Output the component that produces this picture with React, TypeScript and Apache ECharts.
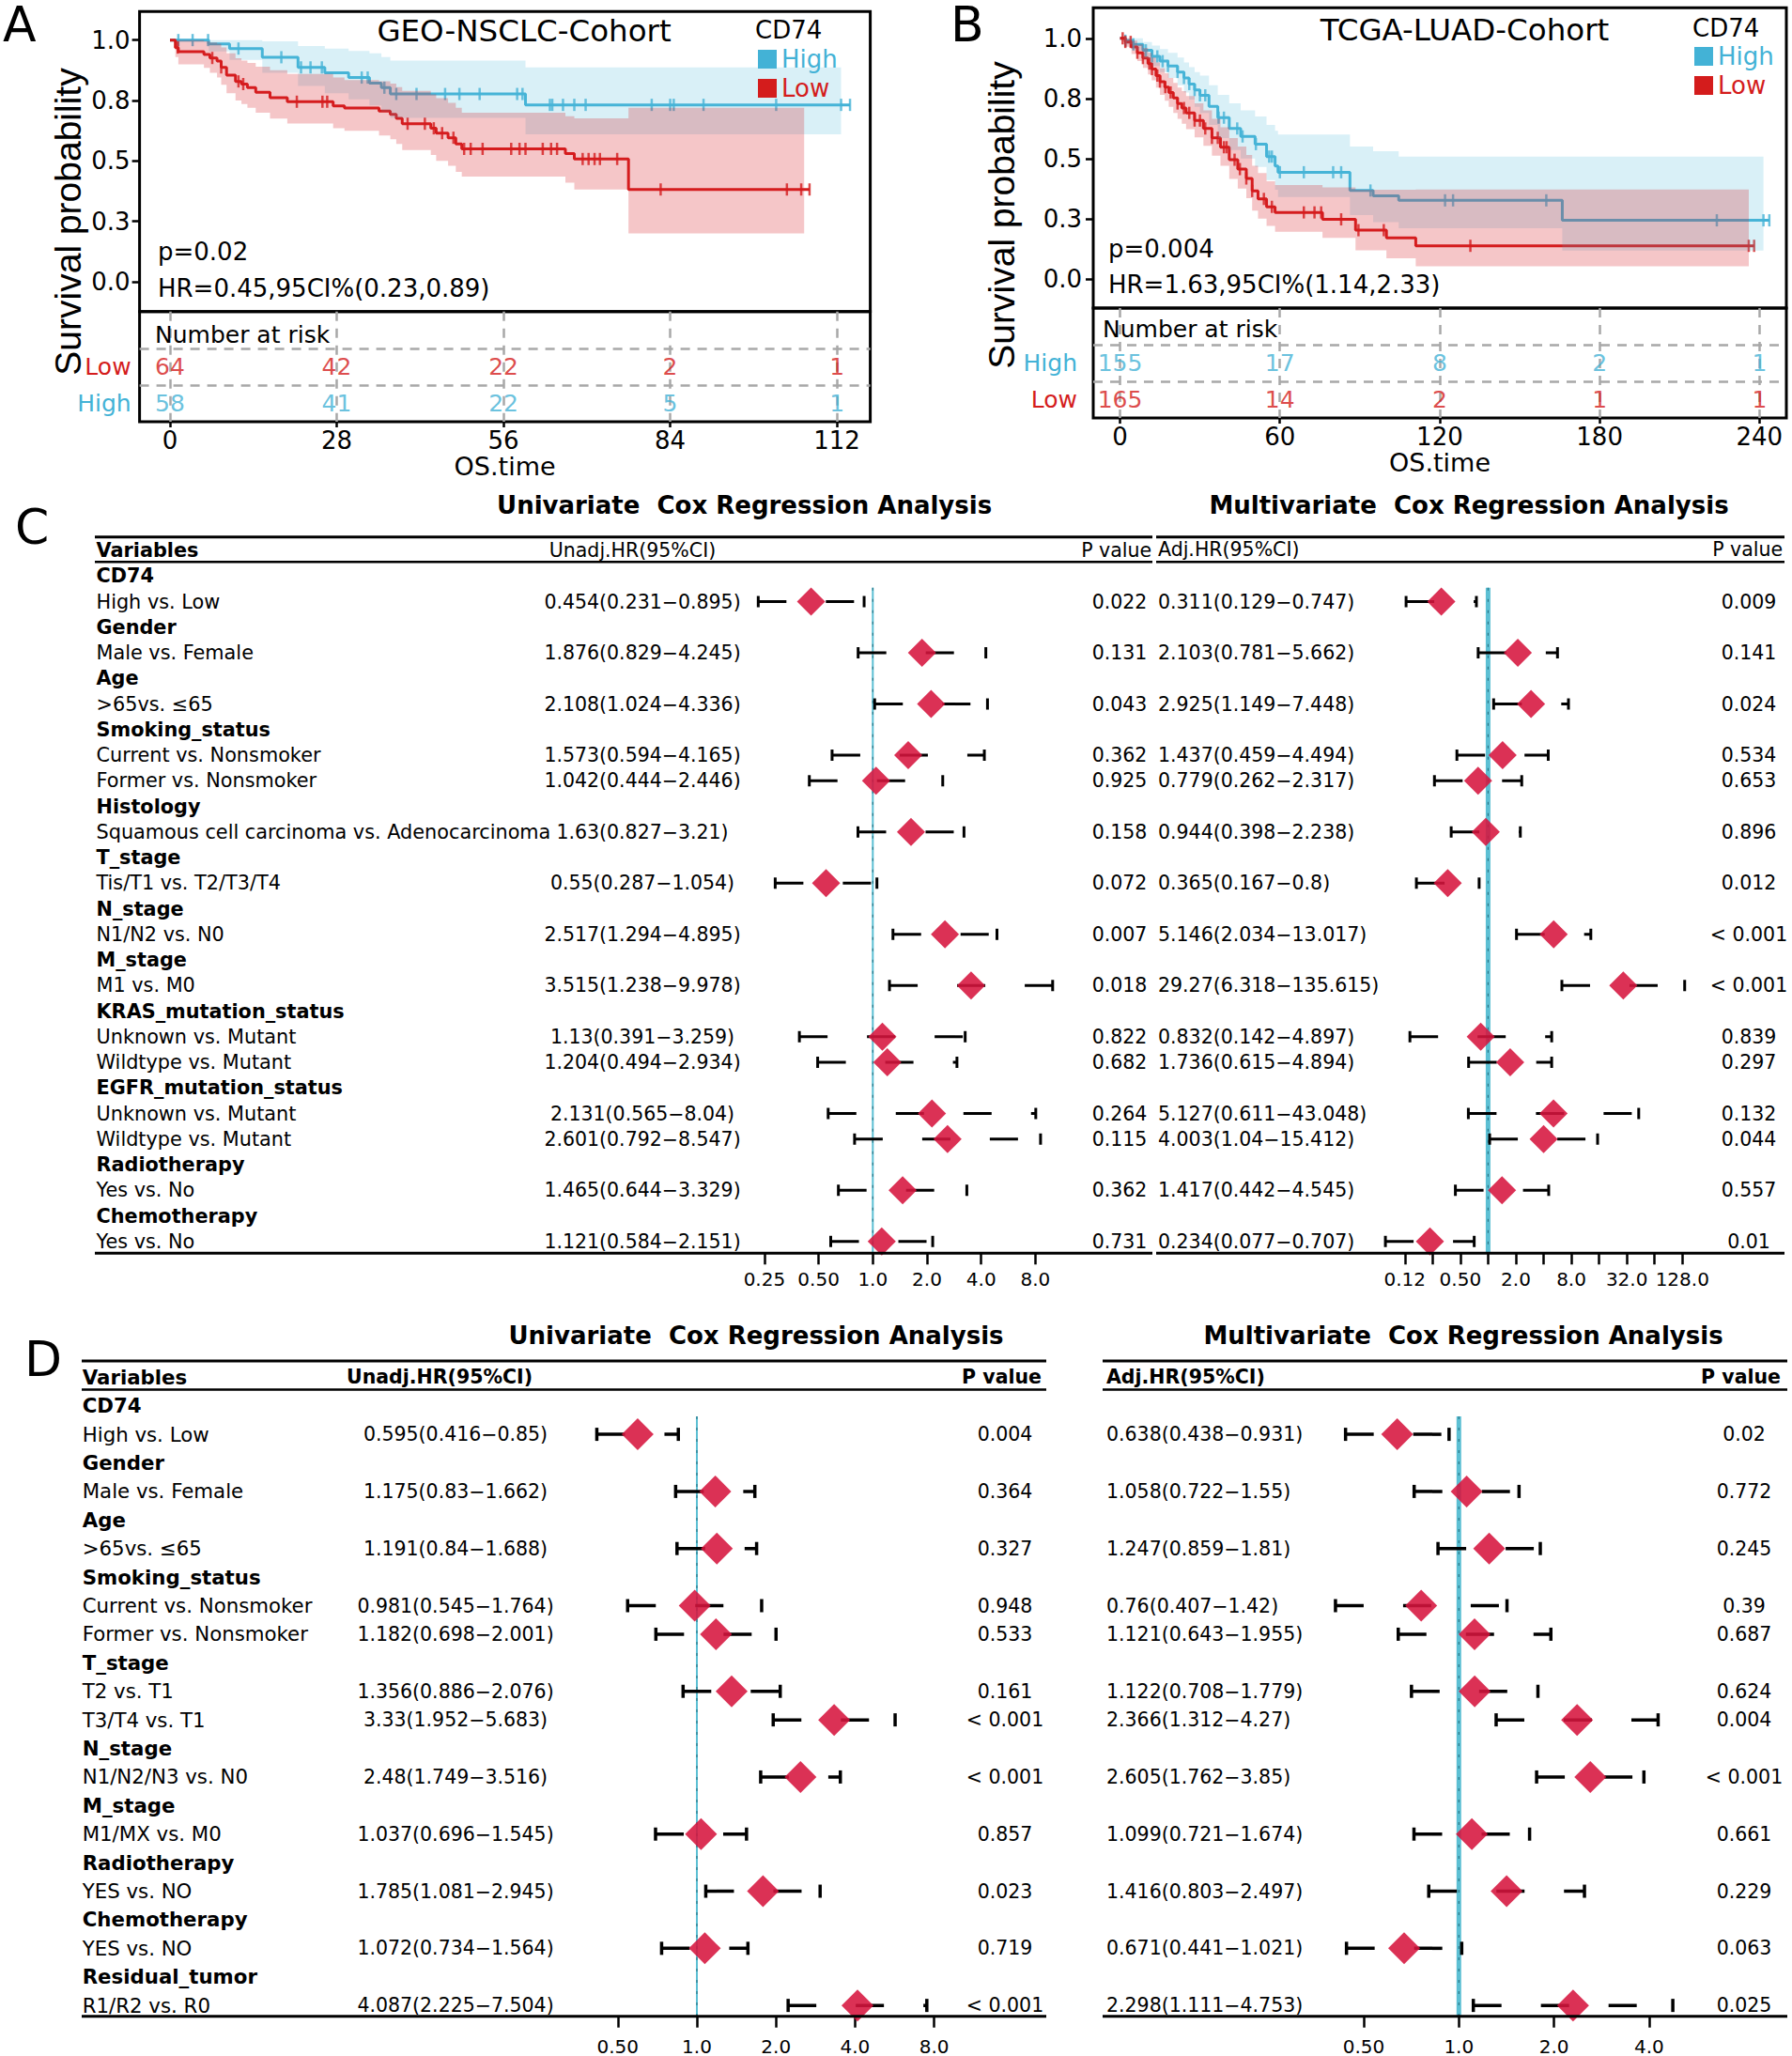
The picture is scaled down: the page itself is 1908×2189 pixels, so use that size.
import React, { useEffect, useRef } from "react";
import * as echarts from "echarts";

const W = 1908;
const H = 2189;
const FONT = "'DejaVu Sans', 'Liberation Sans', sans-serif";
const FONT_ARIAL = "'Liberation Sans', Arial, sans-serif";
const CYAN = "#43B2D6";
const RED = "#D41C1C";
const CYAN_BAND = "rgba(80,185,220,0.22)";
const RED_BAND = "rgba(215,28,35,0.25)";
const DIAMOND = "rgba(214,20,62,0.88)";

// ---------------- KM data ----------------
const KM_Y_TICKS = [0, 0.25, 0.5, 0.75, 1];
const KM_Y_LABELS = ["0.0", "0.3", "0.5", "0.8", "1.0"];

const A_X_TICKS = [0, 28, 56, 84, 112];
const B_X_TICKS = [0, 60, 120, 180, 240];

const A_HIGH_T = [0, 6.5, 10, 15.5, 21.5, 26, 30, 33.5, 35.5, 37, 59.7];
const A_HIGH_S = [1, 0.984, 0.965, 0.929, 0.887, 0.865, 0.845, 0.822, 0.803, 0.777, 0.732];
const A_HIGH_LO = [1, 0.953, 0.918, 0.865, 0.81, 0.78, 0.755, 0.73, 0.705, 0.678, 0.61];
const A_HIGH_HI = [1, 1, 1, 0.995, 0.975, 0.965, 0.955, 0.945, 0.93, 0.915, 0.887];
const A_HIGH_END = 114.2;
const A_HIGH_BAND_END = 112.7;
const A_HIGH_CENS = [1.4, 3.8, 6.4, 11.5, 18.7, 22, 23.6, 25.5, 32.2, 33.2, 36, 38, 41.4, 46.2, 48.6, 52, 58.3, 59.2, 63.8, 64.2, 66, 67.9, 69.8, 80.9, 84, 84.6, 89.6, 101.8, 112.7, 114.2];

const A_LOW_T = [0, 0.9, 1.4, 5.7, 6.7, 7.9, 8.6, 9.5, 11, 12, 13, 14.4, 16.8, 19.7, 27.4, 29.3, 35.1, 37, 38, 39, 43.8, 44.7, 46.7, 48, 49, 66.4, 67.9, 77];
const A_LOW_S = [1, 0.969, 0.952, 0.94, 0.926, 0.913, 0.887, 0.855, 0.829, 0.818, 0.803, 0.784, 0.762, 0.745, 0.728, 0.719, 0.706, 0.693, 0.676, 0.654, 0.635, 0.615, 0.596, 0.57, 0.55, 0.531, 0.508, 0.382];
const A_LOW_LO = [1, 0.93, 0.9, 0.885, 0.865, 0.845, 0.815, 0.78, 0.75, 0.735, 0.72, 0.7, 0.675, 0.655, 0.635, 0.625, 0.605, 0.59, 0.57, 0.545, 0.525, 0.5, 0.48, 0.455, 0.435, 0.41, 0.382, 0.2];
const A_LOW_HI = [1, 1, 1, 0.995, 0.99, 0.985, 0.97, 0.945, 0.925, 0.915, 0.905, 0.89, 0.875, 0.86, 0.845, 0.835, 0.83, 0.82, 0.805, 0.79, 0.775, 0.76, 0.74, 0.72, 0.7, 0.685, 0.676, 0.72];
const A_LOW_END = 107.4;
const A_LOW_BAND_END = 106.5;
const A_LOW_CENS = [1.3, 7.1, 8.6, 11.5, 12.3, 21.3, 25.6, 26.4, 39.9, 42.8, 44.3, 45.7, 47.6, 49.4, 50.5, 52.5, 57.3, 58.7, 59.7, 62.6, 64, 65, 69.3, 70.3, 71.3, 72.2, 75.1, 82.4, 103.6, 106, 107.4];

const B_HIGH_T = [0, 2, 5, 8.6, 12, 15, 18, 21.6, 24, 25.9, 28, 30, 33.4, 36.7, 41, 45.3, 50.7, 55, 58.2, 59.3, 86.3, 95, 104.6, 166];
const B_HIGH_S = [1, 0.99, 0.975, 0.95, 0.925, 0.905, 0.885, 0.86, 0.835, 0.81, 0.785, 0.763, 0.717, 0.67, 0.625, 0.592, 0.56, 0.508, 0.469, 0.443, 0.367, 0.345, 0.326, 0.243];
const B_HIGH_LO = [1, 0.975, 0.95, 0.915, 0.885, 0.86, 0.835, 0.805, 0.775, 0.745, 0.715, 0.69, 0.64, 0.585, 0.535, 0.5, 0.465, 0.41, 0.37, 0.34, 0.265, 0.235, 0.21, 0.117];
const B_HIGH_HI = [1, 1, 1, 0.985, 0.97, 0.955, 0.94, 0.92, 0.9, 0.88, 0.86, 0.845, 0.805, 0.765, 0.73, 0.7, 0.675, 0.64, 0.615, 0.6, 0.55, 0.53, 0.508, 0.508];
const B_HIGH_END = 243.7;
const B_HIGH_BAND_END = 241.5;
const B_HIGH_CENS = [2, 5, 9.7, 12, 14, 16, 18, 21.6, 24, 26, 28, 30, 32, 37, 39, 44, 46, 51, 56, 57, 60, 69, 80, 83, 94, 122, 125, 160, 224, 241.5, 243.7];

const B_LOW_T = [0, 2, 4.3, 6.5, 8.6, 10.5, 11.9, 13.5, 15, 16.8, 18.3, 20, 21.6, 23.2, 24.8, 28, 31.3, 34.5, 37.7, 41, 44.2, 47.4, 49.6, 51.8, 55, 58.2, 76, 88.4, 100, 111];
const B_LOW_S = [1, 0.985, 0.964, 0.94, 0.918, 0.895, 0.872, 0.845, 0.82, 0.797, 0.775, 0.752, 0.729, 0.71, 0.69, 0.658, 0.625, 0.586, 0.547, 0.495, 0.456, 0.417, 0.365, 0.332, 0.299, 0.276, 0.247, 0.202, 0.17, 0.137];
const B_LOW_LO = [1, 0.965, 0.935, 0.905, 0.877, 0.85, 0.825, 0.795, 0.765, 0.74, 0.715, 0.69, 0.665, 0.645, 0.622, 0.588, 0.553, 0.512, 0.47, 0.415, 0.375, 0.335, 0.283, 0.25, 0.22, 0.195, 0.17, 0.118, 0.085, 0.052];
const B_LOW_HI = [1, 1, 0.99, 0.975, 0.96, 0.94, 0.92, 0.9, 0.875, 0.855, 0.835, 0.815, 0.795, 0.78, 0.76, 0.73, 0.7, 0.665, 0.63, 0.585, 0.55, 0.515, 0.47, 0.44, 0.405, 0.39, 0.38, 0.37, 0.37, 0.371];
const B_LOW_END = 238;
const B_LOW_BAND_END = 236;
const B_LOW_CENS = [1, 2, 4, 6.5, 8.6, 11, 12, 14, 15, 17, 19, 21.6, 24, 26, 28, 30, 32, 34.5, 36.7, 39, 40, 43, 45, 47.4, 49.6, 54, 57, 69, 73, 75.5, 83, 89.5, 99, 131.5, 236, 238];

// number at risk
const A_RISK_NAMES = ["Low", "High"];
const A_RISK_LOW = [64, 42, 22, 2, 1];
const A_RISK_HIGH = [58, 41, 22, 5, 1];
const B_RISK_NAMES = ["High", "Low"];
const B_RISK_HIGH = [155, 17, 8, 2, 1];
const B_RISK_LOW = [165, 14, 2, 1, 1];

// ---------------- Forest data ----------------
const C_GROUPS: [string, string[]][] = [
  ["CD74", ["High vs. Low"]],
  ["Gender", ["Male vs. Female"]],
  ["Age", [">65vs. ≤65"]],
  ["Smoking_status", ["Current vs. Nonsmoker", "Former vs. Nonsmoker"]],
  ["Histology", ["Squamous cell carcinoma vs. Adenocarcinoma"]],
  ["T_stage", ["Tis/T1 vs. T2/T3/T4"]],
  ["N_stage", ["N1/N2 vs. N0"]],
  ["M_stage", ["M1 vs. M0"]],
  ["KRAS_mutation_status", ["Unknown vs. Mutant", "Wildtype vs. Mutant"]],
  ["EGFR_mutation_status", ["Unknown vs. Mutant", "Wildtype vs. Mutant"]],
  ["Radiotherapy", ["Yes vs. No"]],
  ["Chemotherapy", ["Yes vs. No"]],
];
const C_UNI_HR = [0.454, 1.876, 2.108, 1.573, 1.042, 1.63, 0.55, 2.517, 3.515, 1.13, 1.204, 2.131, 2.601, 1.465, 1.121];
const C_UNI_LO = [0.231, 0.829, 1.024, 0.594, 0.444, 0.827, 0.287, 1.294, 1.238, 0.391, 0.494, 0.565, 0.792, 0.644, 0.584];
const C_UNI_HI = [0.895, 4.245, 4.336, 4.165, 2.446, 3.21, 1.054, 4.895, 9.978, 3.259, 2.934, 8.04, 8.547, 3.329, 2.151];
const C_UNI_P = ["0.022", "0.131", "0.043", "0.362", "0.925", "0.158", "0.072", "0.007", "0.018", "0.822", "0.682", "0.264", "0.115", "0.362", "0.731"];
const C_MUL_HR = [0.311, 2.103, 2.925, 1.437, 0.779, 0.944, 0.365, 5.146, 29.27, 0.832, 1.736, 5.127, 4.003, 1.417, 0.234];
const C_MUL_LO = [0.129, 0.781, 1.149, 0.459, 0.262, 0.398, 0.167, 2.034, 6.318, 0.142, 0.615, 0.611, 1.04, 0.442, 0.077];
const C_MUL_HI = [0.747, 5.662, 7.448, 4.494, 2.317, 2.238, 0.8, 13.017, 135.615, 4.897, 4.894, 43.048, 15.412, 4.545, 0.707];
const C_MUL_P = ["0.009", "0.141", "0.024", "0.534", "0.653", "0.896", "0.012", "< 0.001", "< 0.001", "0.839", "0.297", "0.132", "0.044", "0.557", "0.01"];
const C_UNI_TICKS = [0.25, 0.5, 1, 2, 4, 8];
const C_UNI_TICK_LABELS = ["0.25", "0.50", "1.0", "2.0", "4.0", "8.0"];
const C_MUL_TICKS = [0.125, 0.25, 0.5, 1, 2, 4, 8, 16, 32, 64, 128];
const C_MUL_LABEL_TICKS = [0.125, 0.5, 2, 8, 32, 128];
const C_MUL_TICK_LABELS = ["0.12", "0.50", "2.0", "8.0", "32.0", "128.0"];

const D_GROUPS: [string, string[]][] = [
  ["CD74", ["High vs. Low"]],
  ["Gender", ["Male vs. Female"]],
  ["Age", [">65vs. ≤65"]],
  ["Smoking_status", ["Current vs. Nonsmoker", "Former vs. Nonsmoker"]],
  ["T_stage", ["T2 vs. T1", "T3/T4 vs. T1"]],
  ["N_stage", ["N1/N2/N3 vs. N0"]],
  ["M_stage", ["M1/MX vs. M0"]],
  ["Radiotherapy", ["YES vs. NO"]],
  ["Chemotherapy", ["YES vs. NO"]],
  ["Residual_tumor", ["R1/R2 vs. R0"]],
];
const D_UNI_HR = [0.595, 1.175, 1.191, 0.981, 1.182, 1.356, 3.33, 2.48, 1.037, 1.785, 1.072, 4.087];
const D_UNI_LO = [0.416, 0.83, 0.84, 0.545, 0.698, 0.886, 1.952, 1.749, 0.696, 1.081, 0.734, 2.225];
const D_UNI_HI = [0.85, 1.662, 1.688, 1.764, 2.001, 2.076, 5.683, 3.516, 1.545, 2.945, 1.564, 7.504];
const D_UNI_P = ["0.004", "0.364", "0.327", "0.948", "0.533", "0.161", "< 0.001", "< 0.001", "0.857", "0.023", "0.719", "< 0.001"];
const D_MUL_HR = [0.638, 1.058, 1.247, 0.76, 1.121, 1.122, 2.366, 2.605, 1.099, 1.416, 0.671, 2.298];
const D_MUL_LO = [0.438, 0.722, 0.859, 0.407, 0.643, 0.708, 1.312, 1.762, 0.721, 0.803, 0.441, 1.111];
const D_MUL_HI = [0.931, 1.55, 1.81, 1.42, 1.955, 1.779, 4.27, 3.85, 1.674, 2.497, 1.021, 4.753];
const D_MUL_P = ["0.02", "0.772", "0.245", "0.39", "0.687", "0.624", "0.004", "< 0.001", "0.661", "0.229", "0.063", "0.025"];
const D_UNI_TICKS = [0.5, 1, 2, 4, 8];
const D_UNI_TICK_LABELS = ["0.50", "1.0", "2.0", "4.0", "8.0"];
const D_MUL_TICKS = [0.5, 1, 2, 4];
const D_MUL_TICK_LABELS = ["0.50", "1.0", "2.0", "4.0"];

// ---------------- helpers ----------------
function stepAt(T: number[], S: number[], t: number) {
  let v = S[0];
  for (let i = 0; i < T.length; i++) if (T[i] <= t) v = S[i];
  return v;
}

function kmSeries(ax: number, name: string, color: string, bandColor: string, T: number[], S: number[], LO: number[], HI: number[], end: number, bandEnd: number, cens: number[]) {
  const n = T.length;
  const line = T.map((t, i) => [t, S[i]]).concat([[end, S[n - 1]]]);
  const cs = cens.map((t) => [t, stepAt(T, S, t)]);
  const xs = T.concat([bandEnd]);
  return [
    { type: "line", name, xAxisIndex: ax, yAxisIndex: ax, data: line, step: "end", symbol: "none", lineStyle: { color, width: 3 }, itemStyle: { color }, z: 2, silent: true },
    { type: "scatter", xAxisIndex: ax, yAxisIndex: ax, data: cs, symbol: "rect", symbolSize: [2.5, 13], itemStyle: { color }, z: 2, silent: true },
    {
      type: "custom", xAxisIndex: ax, yAxisIndex: ax, silent: true, z: 3, clip: true,
      data: T.map((t, i) => [t, LO[i], HI[i]]),
      encode: { x: 0, y: [1, 2] },
      renderItem: (params: any, api: any) => {
        if (params.dataIndex !== 0) return null;
        const up: number[][] = [];
        const dn: number[][] = [];
        for (let i = 0; i < n; i++) {
          up.push(api.coord([xs[i], HI[i]]), api.coord([xs[i + 1], HI[i]]));
          dn.push(api.coord([xs[i], LO[i]]), api.coord([xs[i + 1], LO[i]]));
        }
        return { type: "polygon", shape: { points: up.concat(dn.reverse()) }, style: { fill: bandColor } };
      },
    },
  ];
}

function riskSeries(ax: number, ticks: number[], row: number, values: number[], color: string, withLines: boolean) {
  const s: any = {
    type: "scatter", xAxisIndex: ax, yAxisIndex: ax, symbolSize: 2, itemStyle: { color: "rgba(0,0,0,0)" }, silent: true, z: 5,
    data: ticks.map((t, i) => [t, row, values[i]]),
    label: { show: true, position: "inside", formatter: (p: any) => String(p.value[2]), color, fontSize: 25, fontFamily: FONT },
  };
  if (withLines) {
    s.markLine = {
      silent: true, symbol: ["none", "none"], label: { show: false }, animation: false,
      lineStyle: { color: "#a8a8a8", width: 2.5, type: [10, 8] },
      data: [{ yAxis: 2 }, { yAxis: 4 }, ...ticks.map((t) => ({ xAxis: t }))],
    };
  }
  return s;
}

function gtext(x: number, y: number, text: string, o: any = {}) {
  const size = o.size ?? 21;
  const weight = o.weight ?? "normal";
  const family = o.family ?? FONT;
  const align = o.align ?? "left";
  return {
    type: "text", x, y, rotation: o.rotation ?? 0, silent: true, z: 10,
    style: {
      text, fill: o.color ?? "#000", font: `${weight} ${size}px ${family}`,
      fontSize: size, fontFamily: family, fontWeight: weight,
      align, verticalAlign: "middle", textAlign: align, textVerticalAlign: "middle",
    },
  };
}

function gline(x1: number, y1: number, x2: number, y2: number, w = 3) {
  return { type: "line", silent: true, z: 10, shape: { x1, y1, x2, y2 }, style: { stroke: "#000", lineWidth: w } };
}

function buildRows(groups: [string, string[]][], hr: number[], lo: number[], hi: number[], p: string[]) {
  const rows: any[] = [];
  let k = 0;
  groups.forEach(([g, subs]) => {
    rows.push({ label: g, group: true });
    subs.forEach((s) => {
      rows.push({ label: s, group: false, hr: hr[k], lo: lo[k], hi: hi[k], p: p[k] });
      k++;
    });
  });
  return rows;
}

const TXT = 20.5;

function forestSeries(ax: number, cfg: any) {
  const rows = cfg.rows;
  return {
    type: "custom", xAxisIndex: ax, yAxisIndex: ax, clip: false, silent: true, z: 4,
    data: rows.map((_: any, i: number) => [0, i]),
    encode: { x: 0, y: 1 },
    renderItem: (params: any, api: any) => {
      const i = params.dataIndex;
      const r = rows[i];
      const y = api.coord([0, i])[1];
      const ch: any[] = [];
      const t = (x: number, s: string, weight: string, align: string, size: number) => ({
        type: "text", x, y,
        style: { text: s, fill: "#000", font: `${weight} ${size}px ${FONT}`, fontSize: size, fontFamily: FONT, fontWeight: weight, align, verticalAlign: "middle", textAlign: align, textVerticalAlign: "middle" },
      });
      if (cfg.showNames) ch.push(t(cfg.nameX, r.label, r.group ? "bold" : "normal", "left", cfg.nameSize));
      if (!r.group) {
        const xl = api.coord([Math.log2(r.lo), i])[0];
        const xh = api.coord([Math.log2(r.hi), i])[0];
        const xm = api.coord([Math.log2(r.hr), i])[0];
        const c = cfg.capH / 2;
        const d = cfg.diamond / 2;
        ch.push({ type: "line", shape: { x1: xl, y1: y, x2: xh, y2: y }, style: { stroke: "#000", lineWidth: cfg.lw, lineDash: [30, 42] } });
        ch.push({ type: "line", shape: { x1: xl, y1: y - c, x2: xl, y2: y + c }, style: { stroke: "#000", lineWidth: cfg.lw } });
        ch.push({ type: "line", shape: { x1: xh, y1: y - c, x2: xh, y2: y + c }, style: { stroke: "#000", lineWidth: cfg.lw } });
        ch.push({ type: "polygon", shape: { points: [[xm - d, y], [xm, y - d], [xm + d, y], [xm, y + d]] }, style: { fill: DIAMOND } });
        ch.push(t(cfg.hrX, `${r.hr}(${r.lo}\u2212${r.hi})`, "normal", cfg.hrAlign, TXT));
        ch.push(t(cfg.pX, r.p, "normal", "center", TXT));
      }
      return { type: "group", children: ch };
    },
  };
}

function refLines(ax: number, y0: number, y1: number, w: number) {
  return [
    { type: "line", xAxisIndex: ax, yAxisIndex: ax, data: [[0, y0], [0, y1]], symbol: "none", silent: true, z: 2, lineStyle: { color: "#5CBFD3", width: w } },
    { type: "line", xAxisIndex: ax, yAxisIndex: ax, data: [[0, y0], [0, y1]], symbol: "none", silent: true, z: 2, lineStyle: { color: "#2A7788", width: 1.2, type: [3, 9] } },
  ];
}

function forestAxes(grid: number, min: number, max: number, ticks: number[], labelTicks: number[], labels: string[], margin: number, ymin: number, ymax: number) {
  const lt = labelTicks.map((v) => Math.log2(v));
  return {
    x: {
      gridIndex: grid, type: "value", min, max, position: "bottom",
      axisLine: { show: false, onZero: false },
      axisTick: { show: true, customValues: ticks.map((v) => Math.log2(v)), length: 12, lineStyle: { color: "#000", width: 2.5 } },
      axisLabel: {
        show: true, customValues: lt, margin, fontSize: 20, fontFamily: FONT, color: "#000",
        formatter: (v: number) => {
          const k = lt.findIndex((u) => Math.abs(u - v) < 1e-6);
          return k >= 0 ? labels[k] : "";
        },
      },
      splitLine: { show: false },
    },
    y: { gridIndex: grid, type: "value", min: ymin, max: ymax, inverse: true, show: false, axisLine: { onZero: false }, splitLine: { show: false } },
  };
}

function kmAxes(grid: number, xmin: number, xmax: number, ymin: number, ymax: number, labelMargin: number) {
  return {
    x: { gridIndex: grid, type: "value", min: xmin, max: xmax, position: "bottom", axisLine: { show: false, onZero: false }, axisTick: { show: false }, axisLabel: { show: false }, splitLine: { show: false } },
    y: {
      gridIndex: grid, type: "value", min: ymin, max: ymax, position: "left",
      axisLine: { show: false, onZero: false },
      axisTick: { show: true, customValues: KM_Y_TICKS, length: 8, lineStyle: { color: "#000", width: 2.5 } },
      axisLabel: {
        show: true, customValues: KM_Y_TICKS, margin: labelMargin, fontSize: 26, fontFamily: FONT, color: "#000",
        formatter: (v: number) => {
          const k = KM_Y_TICKS.findIndex((u) => Math.abs(u - v) < 1e-9);
          return k >= 0 ? KM_Y_LABELS[k] : "";
        },
      },
      splitLine: { show: false },
    },
  };
}

function riskAxes(grid: number, xmin: number, xmax: number, ticks: number[], names: string[], colors: string[], labelMargin: number) {
  return {
    x: {
      gridIndex: grid, type: "value", min: xmin, max: xmax, position: "bottom",
      axisLine: { show: false, onZero: false },
      axisTick: { show: true, customValues: ticks, length: 6, lineStyle: { color: "#000", width: 2.5 } },
      axisLabel: { show: true, customValues: ticks, margin: 7, fontSize: 26, fontFamily: FONT, color: "#000" },
      splitLine: { show: false },
      name: "OS.time", nameLocation: "middle", nameGap: 34,
      nameTextStyle: { fontSize: 27, fontFamily: FONT, color: "#000" },
    },
    y: {
      gridIndex: grid, type: "value", min: 0, max: 6, inverse: true, position: "left",
      axisLine: { show: false, onZero: false }, axisTick: { show: false }, splitLine: { show: false },
      axisLabel: {
        show: true, customValues: [3, 5], margin: labelMargin,
        formatter: (v: number) => (v === 3 ? `{a|${names[0]}}` : `{b|${names[1]}}`),
        rich: {
          a: { color: colors[0], fontSize: 25, fontFamily: FONT },
          b: { color: colors[1], fontSize: 25, fontFamily: FONT },
        },
      },
    },
  };
}

export default function App() {
  const ref = useRef<HTMLDivElement>(null);
  useEffect(() => {
    if (!ref.current) return;
    const chart = echarts.init(ref.current, null, { renderer: "svg", width: W, height: H });

    const gridBox = { show: true, borderColor: "#000", borderWidth: 3, backgroundColor: "transparent" };
    const grids: any[] = [
      { left: 148.6, top: 12.3, width: 778, height: 319.4, ...gridBox },
      { left: 148.6, top: 331.7, width: 778, height: 117.3, ...gridBox },
      { left: 1164, top: 8.3, width: 738, height: 319.7, ...gridBox },
      { left: 1164, top: 328, width: 738, height: 117, ...gridBox },
    ];
    const fC1 = { c: 929.3, ppu: 57.7, min: -2.32, max: 3.58 };
    const fC2 = { c: 1584.4, ppu: 29.55, min: -4.05, max: 7.5 };
    const fD1 = { c: 742, ppu: 84.2, min: -1.5, max: 3.15 };
    const fD2 = { c: 1553.3, ppu: 101.3, min: -1.5, max: 2.45 };
    const cTop = 598.3, cBot = 1334.3, dTop = 1479.6, dBot = 2146.7;
    [[fC1, cTop, cBot], [fC2, cTop, cBot], [fD1, dTop, dBot], [fD2, dTop, dBot]].forEach(([f, t, b]: any) => {
      grids.push({ left: f.c + f.min * f.ppu, width: (f.max - f.min) * f.ppu, top: t, height: b - t, show: false });
    });
    grids.forEach((g) => (g.outerBoundsMode = "none"));

    const kA = kmAxes(0, -5.11, 117.6, -0.123, 1.118, 10);
    const rA = riskAxes(1, -5.11, 117.6, A_X_TICKS, A_RISK_NAMES, [RED, CYAN], 9);
    const kB = kmAxes(2, -10.05, 250.1, -0.122, 1.127, 12);
    const rB = riskAxes(3, -10.05, 250.1, B_X_TICKS, B_RISK_NAMES, [CYAN, RED], 17);
    const cY = [-0.55, 26.46];
    const dY = [-0.5625, 21.38];
    const a4 = forestAxes(4, fC1.min, fC1.max, C_UNI_TICKS, C_UNI_TICKS, C_UNI_TICK_LABELS, 18, cY[0], cY[1]);
    const a5 = forestAxes(5, fC2.min, fC2.max, C_MUL_TICKS, C_MUL_LABEL_TICKS, C_MUL_TICK_LABELS, 18, cY[0], cY[1]);
    const a6 = forestAxes(6, fD1.min, fD1.max, D_UNI_TICKS, D_UNI_TICKS, D_UNI_TICK_LABELS, 22, dY[0], dY[1]);
    const a7 = forestAxes(7, fD2.min, fD2.max, D_MUL_TICKS, D_MUL_TICKS, D_MUL_TICK_LABELS, 22, dY[0], dY[1]);
    const axes = [kA, rA, kB, rB, a4, a5, a6, a7];

    const cUni = buildRows(C_GROUPS, C_UNI_HR, C_UNI_LO, C_UNI_HI, C_UNI_P);
    const cMul = buildRows(C_GROUPS, C_MUL_HR, C_MUL_LO, C_MUL_HI, C_MUL_P);
    const dUni = buildRows(D_GROUPS, D_UNI_HR, D_UNI_LO, D_UNI_HI, D_UNI_P);
    const dMul = buildRows(D_GROUPS, D_MUL_HR, D_MUL_LO, D_MUL_HI, D_MUL_P);

    const series: any[] = [
      ...kmSeries(0, "High", CYAN, CYAN_BAND, A_HIGH_T, A_HIGH_S, A_HIGH_LO, A_HIGH_HI, A_HIGH_END, A_HIGH_BAND_END, A_HIGH_CENS),
      ...kmSeries(0, "Low", RED, RED_BAND, A_LOW_T, A_LOW_S, A_LOW_LO, A_LOW_HI, A_LOW_END, A_LOW_BAND_END, A_LOW_CENS),
      ...kmSeries(2, "High", CYAN, CYAN_BAND, B_HIGH_T, B_HIGH_S, B_HIGH_LO, B_HIGH_HI, B_HIGH_END, B_HIGH_BAND_END, B_HIGH_CENS),
      ...kmSeries(2, "Low", RED, RED_BAND, B_LOW_T, B_LOW_S, B_LOW_LO, B_LOW_HI, B_LOW_END, B_LOW_BAND_END, B_LOW_CENS),
      riskSeries(1, A_X_TICKS, 3, A_RISK_LOW, RED, true),
      riskSeries(1, A_X_TICKS, 5, A_RISK_HIGH, CYAN, false),
      riskSeries(3, B_X_TICKS, 3, B_RISK_HIGH, CYAN, true),
      riskSeries(3, B_X_TICKS, 5, B_RISK_LOW, RED, false),
      ...refLines(4, 0.46, cY[1], 2),
      ...refLines(5, 0.46, cY[1], 5),
      ...refLines(6, 0.37, dY[1], 2),
      ...refLines(7, 0.37, dY[1], 5),
      forestSeries(4, { rows: cUni, showNames: true, nameX: 102.5, nameSize: 20.8, hrX: 684, hrAlign: "center", pX: 1192, diamond: 30, capH: 12, lw: 3 }),
      forestSeries(5, { rows: cMul, showNames: false, hrX: 1233, hrAlign: "left", pX: 1862, diamond: 30, capH: 12, lw: 3 }),
      forestSeries(6, { rows: dUni, showNames: true, nameX: 87.7, nameSize: 21.3, hrX: 485, hrAlign: "center", pX: 1070, diamond: 34, capH: 14, lw: 3.5 }),
      forestSeries(7, { rows: dMul, showNames: false, hrX: 1178, hrAlign: "left", pX: 1857, diamond: 34, capH: 14, lw: 3.5 }),
    ];

    const legendBase = {
      orient: "vertical", icon: "rect", itemWidth: 20, itemHeight: 20, itemGap: 5, selectedMode: false,
      textStyle: { fontSize: 26, fontFamily: FONT, lineHeight: 26 },
      data: [{ name: "High", textStyle: { color: CYAN } }, { name: "Low", textStyle: { color: RED } }],
    };

    const graphics: any[] = [
      gtext(3, 26, "A", { size: 52 }),
      gtext(1012, 26, "B", { size: 52 }),
      gtext(16, 561, "C", { size: 52 }),
      gtext(26, 1447, "D", { size: 52 }),
      gtext(558, 33, "GEO-NSCLC-Cohort", { size: 32.5, align: "center" }),
      gtext(1559.5, 32, "TCGA-LUAD-Cohort", { size: 32.5, align: "center" }),
      gtext(804, 32, "CD74", { size: 26 }),
      gtext(1802, 30, "CD74", { size: 26 }),
      gtext(168, 268, "p=0.02", { size: 26 }),
      gtext(168, 307, "HR=0.45,95CI%(0.23,0.89)", { size: 26 }),
      gtext(1180, 265, "p=0.004", { size: 26 }),
      gtext(1180, 303, "HR=1.63,95CI%(1.14,2.33)", { size: 26 }),
      gtext(165, 356, "Number at risk", { size: 25 }),
      gtext(1174, 350, "Number at risk", { size: 25 }),
      gtext(72, 236, "Survival probability", { size: 39, family: FONT_ARIAL, align: "center", rotation: Math.PI / 2 }),
      gtext(1066, 229, "Survival probability", { size: 39, family: FONT_ARIAL, align: "center", rotation: Math.PI / 2 }),
      gtext(792.6, 538, "Univariate  Cox Regression Analysis", { size: 26, weight: "bold", align: "center" }),
      gtext(1564, 538, "Multivariate  Cox Regression Analysis", { size: 26, weight: "bold", align: "center" }),
      gtext(805, 1421.7, "Univariate  Cox Regression Analysis", { size: 26, weight: "bold", align: "center" }),
      gtext(1558, 1421.5, "Multivariate  Cox Regression Analysis", { size: 26, weight: "bold", align: "center" }),
      gtext(102.5, 586, "Variables", { size: 20.8, weight: "bold" }),
      gtext(673.5, 586, "Unadj.HR(95%CI)", { size: TXT, align: "center" }),
      gtext(1226, 586, "P value", { size: TXT, align: "right" }),
      gtext(1233, 585, "Adj.HR(95%CI)", { size: TXT }),
      gtext(1898, 585, "P value", { size: TXT, align: "right" }),
      gtext(87.7, 1466, "Variables", { size: 21.3, weight: "bold" }),
      gtext(468, 1466, "Unadj.HR(95%CI)", { size: TXT, weight: "bold", align: "center" }),
      gtext(1109, 1466, "P value", { size: TXT, weight: "bold", align: "right" }),
      gtext(1178, 1466, "Adj.HR(95%CI)", { size: TXT, weight: "bold" }),
      gtext(1896, 1466, "P value", { size: TXT, weight: "bold", align: "right" }),
      gline(101, 571.7, 1227, 571.7), gline(101, 598.3, 1227, 598.3, 2.5), gline(101, cBot, 1227, cBot),
      gline(1231, 571.7, 1900, 571.7), gline(1231, 598.3, 1900, 598.3, 2.5), gline(1231, cBot, 1900, cBot),
      gline(87, 1449, 1114, 1449), gline(87, 1479.6, 1114, 1479.6, 2.5), gline(87, dBot, 1114, dBot),
      gline(1174, 1449, 1903, 1449), gline(1174, 1479.6, 1903, 1479.6, 2.5), gline(1174, dBot, 1903, dBot),
    ];

    const option: any = {
      animation: false,
      backgroundColor: "#fff",
      textStyle: { fontFamily: FONT },
      grid: grids,
      xAxis: axes.map((a) => a.x),
      yAxis: axes.map((a) => a.y),
      legend: [
        { ...legendBase, left: 802, top: 45 },
        { ...legendBase, left: 1799, top: 42 },
      ],
      series,
      graphic: graphics,
    };
    chart.setOption(option);
    return () => chart.dispose();
  }, []);
  return <div ref={ref} style={{ position: "absolute", left: 0, top: 0, width: W, height: H, background: "#fff" }} />;
}
